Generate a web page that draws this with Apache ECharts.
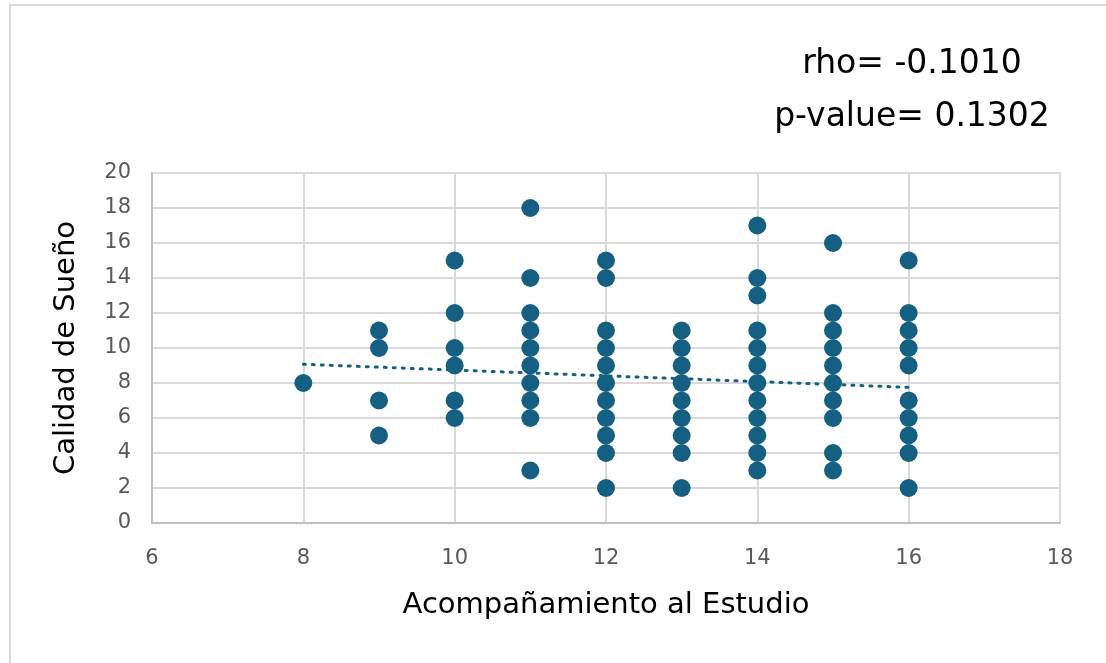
<!DOCTYPE html>
<html>
<head>
<meta charset="utf-8">
<script src="https://cdn.jsdelivr.net/npm/echarts@6/dist/echarts.min.js"></script>
<style>
html,body{margin:0;padding:0;background:#fff;}
#c{width:1106px;height:663px;}
</style>
</head>
<body>
<div id="c"></div>
<script>
// x category (Acompañamiento al Estudio) and the y values seen in each column
const xValues = [8, 9, 10, 11, 12, 13, 14, 15, 16];
const yByX = [
  [8],
  [11, 10, 7, 5],
  [15, 12, 10, 9, 7, 6],
  [18, 14, 12, 11, 10, 9, 8, 7, 6, 3],
  [15, 14, 11, 10, 9, 8, 7, 6, 5, 4, 2],
  [11, 10, 9, 8, 7, 6, 5, 4, 2],
  [17, 14, 13, 11, 10, 9, 8, 7, 6, 5, 4, 3],
  [16, 12, 11, 10, 9, 8, 7, 6, 4, 3],
  [15, 12, 11, 10, 9, 7, 6, 5, 4, 2]
];
// trendline endpoints
const trendX = [8, 16];
const trendY = [9.07, 7.75];
const statLines = ['rho= -0.1010', 'p-value= 0.1302'];
const xTitle = 'Acompañamiento al Estudio';
const yTitle = 'Calidad de Sueño';

const points = [];
xValues.forEach((x, i) => yByX[i].forEach(y => points.push([x, y])));
const trend = trendX.map((x, i) => [x, trendY[i]]);

const FONT = '"DejaVu Sans", "Liberation Sans", sans-serif';
const chart = echarts.init(document.getElementById('c'), null, {renderer: 'canvas'});
chart.setOption({
  backgroundColor: '#fff',
  animation: false,
  grid: {left: 152, right: 46, top: 173, bottom: 140, containLabel: false},
  xAxis: {
    type: 'value', min: 6, max: 18, interval: 2,
    name: xTitle, nameLocation: 'middle', nameGap: 68,
    nameTextStyle: {fontFamily: FONT, fontSize: 29, color: '#000'},
    axisLine: {show: true, lineStyle: {color: '#bfbfbf', width: 2}},
    axisTick: {show: false},
    axisLabel: {fontFamily: FONT, fontSize: 21, color: '#595959', margin: 25},
    splitLine: {show: true, lineStyle: {color: '#d9d9d9', width: 2}}
  },
  yAxis: {
    type: 'value', min: 0, max: 20, interval: 2,
    name: yTitle, nameLocation: 'middle', nameGap: 71, nameRotate: 90,
    nameTextStyle: {fontFamily: FONT, fontSize: 29, color: '#000'},
    axisLine: {show: true, lineStyle: {color: '#bfbfbf', width: 2}},
    axisTick: {show: false},
    axisLabel: {fontFamily: FONT, fontSize: 21, color: '#595959', margin: 21},
    splitLine: {show: true, lineStyle: {color: '#d9d9d9', width: 2}}
  },
  series: [
    {
      type: 'line', data: trend, symbol: 'none', z: 3,
      lineStyle: {color: '#156082', width: 3, type: [2, 7], cap: 'round'}
    },
    {
      type: 'scatter', data: points, symbolSize: 18, z: 2,
      itemStyle: {color: '#156082', opacity: 1}
    }
  ],
  graphic: [
    {type: 'rect', silent: true,
     shape: {x: 10, y: 5, width: 1200, height: 800},
     style: {fill: 'none', stroke: '#d9d9d9', lineWidth: 2}},
    {type: 'text', silent: true,
     style: {text: statLines[0], x: 912, y: 64, align: 'center', verticalAlign: 'middle',
             font: '33px ' + FONT, fill: '#000'}},
    {type: 'text', silent: true,
     style: {text: statLines[1], x: 912, y: 117, align: 'center', verticalAlign: 'middle',
             font: '33px ' + FONT, fill: '#000'}}
  ]
});
</script>
</body>
</html>
